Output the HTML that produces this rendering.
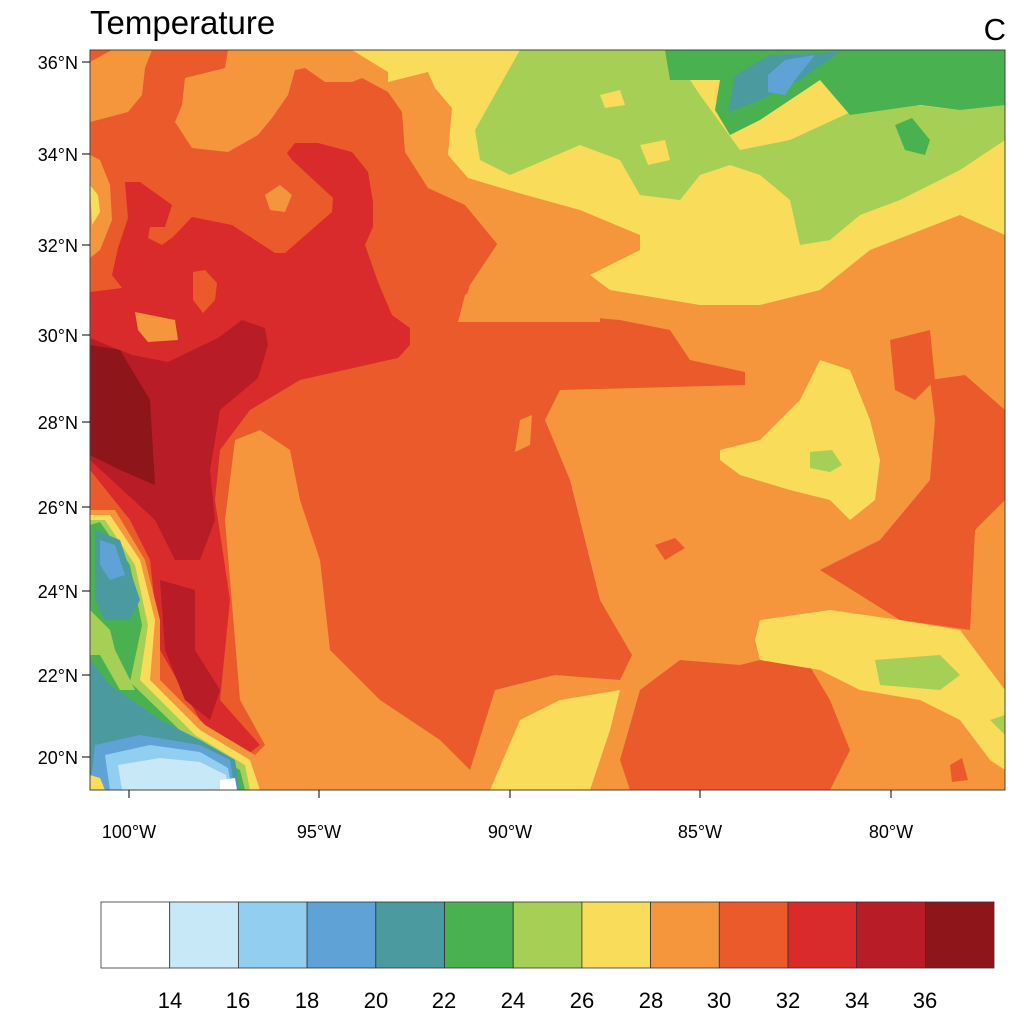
<!DOCTYPE html>
<html><head><meta charset="utf-8"><style>
html,body{margin:0;padding:0;background:#fff;}
svg{display:block;font-family:"Liberation Sans",sans-serif;}
</style></head><body>
<svg width="1014" height="1016" viewBox="0 0 1014 1016" xmlns="http://www.w3.org/2000/svg">
<defs><clipPath id="c"><rect x="90" y="50" width="915" height="740"/></clipPath></defs>
<text x="90" y="34" font-size="33">Temperature</text>
<text x="1006" y="40" font-size="31" text-anchor="end">C</text>
<g clip-path="url(#c)">
<rect x="90" y="50" width="915" height="740" fill="#f5963c"/>
<!-- red-orange 32 -->
<polygon fill="#eb5a2a" points="90,50 380,50 400,70 430,60 455,100 450,170 490,200 500,240 470,285 460,315 560,315 620,320 670,330 690,360 745,372 745,385 560,390 545,420 570,480 600,600 632,655 620,680 555,675 495,690 470,770 440,740 380,700 330,650 320,560 300,500 290,450 260,430 235,440 225,520 240,700 265,745 250,760 90,760"/>
<!-- orange patches top-left -->
<polygon fill="#f5963c" points="112,50 152,50 145,68 142,95 128,112 90,122 90,62"/>
<polygon fill="#f5963c" points="228,50 225,68 185,78 182,105 175,122 192,148 228,152 258,135 272,118 288,95 295,70 305,68 325,82 352,82 362,78 388,92 402,112 405,152 428,188 465,205 498,245 492,278 465,295 458,322 600,322 600,50"/>
<polygon fill="#f5963c" points="90,155 100,160 110,185 112,220 100,250 90,258"/>
<polygon fill="#f8dc5a" points="90,185 98,195 100,212 92,225"/>
<polygon fill="#f5963c" points="265,195 280,185 292,195 285,212 270,210"/>
<polygon fill="#f5963c" points="520,420 532,415 530,445 515,452"/>
<!-- yellow top -->
<polygon fill="#f8dc5a" points="352,50 388,72 388,82 428,72 435,88 452,108 448,155 468,178 515,192 580,210 640,235 640,250 590,275 610,290 700,305 760,305 820,290 870,250 960,215 1005,235 1005,50"/>
<polygon fill="#a6cf55" points="520,50 670,50 700,95 740,150 790,140 855,110 915,105 960,110 1005,100 1005,140 960,170 900,200 860,215 830,240 800,245 790,200 760,175 730,165 700,175 680,200 640,195 620,160 580,145 510,175 480,160 475,130"/>
<polygon fill="#f8dc5a" points="600,95 620,90 625,105 605,108"/>
<polygon fill="#f8dc5a" points="640,145 665,140 670,160 648,165"/>
<polygon fill="#4ab151" points="665,50 1005,50 1005,105 960,110 920,105 850,115 820,80 790,100 760,120 730,135 715,110 720,80 690,80 670,80"/>
<polygon fill="#4ab151" points="895,125 912,118 930,140 925,155 905,150"/>
<polygon fill="#4a9a9f" points="735,75 770,55 840,52 800,80 760,100 728,112"/>
<polygon fill="#5fa2d6" points="768,75 785,60 815,55 795,80 785,95 768,92"/>
<polygon fill="#eb5a2a" points="930,380 965,375 1005,410 1005,500 975,530 970,630 900,620 820,570 880,540 930,480 935,420"/>
<polygon fill="#eb5a2a" points="890,340 930,330 935,380 915,400 895,390"/>
<polygon fill="#eb5a2a" points="620,760 640,690 680,660 740,665 800,650 830,700 850,750 830,790 630,790"/>
<polygon fill="#eb5a2a" points="655,545 675,538 685,548 665,560"/>
<polygon fill="#eb5a2a" points="950,765 962,758 968,780 952,782"/>
<!-- yellow right blobs -->
<polygon fill="#f8dc5a" points="720,450 760,440 800,400 820,360 850,370 870,420 880,460 875,500 850,520 830,500 790,490 740,475 720,460"/>
<polygon fill="#a6cf55" points="810,452 832,450 842,465 830,472 810,468"/>
<polygon fill="#f8dc5a" points="755,640 760,620 830,610 900,620 960,630 1005,690 1005,770 990,760 960,720 920,700 860,690 820,670 760,660"/>
<polygon fill="#a6cf55" points="875,660 940,655 960,675 940,690 880,685"/>
<polygon fill="#a6cf55" points="990,720 1005,715 1005,735"/>
<polygon fill="#f8dc5a" points="490,790 520,720 560,700 620,690 610,730 590,790"/>
<!-- red 34 -->
<polygon fill="#d92b2b" points="90,292 122,288 112,275 118,248 128,218 125,182 140,182 172,205 165,227 150,227 148,238 162,245 173,237 192,217 232,225 275,253 285,253 332,212 333,198 292,160 287,153 295,143 318,143 352,152 368,172 373,202 373,227 365,245 378,282 392,315 410,328 410,345 398,358 380,362 300,380 250,410 220,450 215,500 230,600 220,700 260,745 240,760 200,720 160,650 150,560 130,520 90,470"/>
<polygon fill="#eb5a2a" points="193,272 205,270 217,283 215,300 203,313 193,300"/>
<polygon fill="#f5963c" points="135,312 175,320 178,340 148,342 138,330"/>
<!-- dark red -->
<polygon fill="#b81c26" points="90,338 132,355 168,362 218,338 242,320 265,328 268,345 258,378 220,410 210,470 215,520 200,560 175,560 155,520 90,460"/>
<polygon fill="#b81c26" points="160,580 195,590 195,650 220,690 210,720 185,700 165,650"/>
<polygon fill="#8e1519" points="90,345 120,350 150,400 155,485 120,470 90,455"/>
<!-- lower-left cool colours -->
<polygon fill="#f5963c" points="90,510 115,510 145,560 160,620 160,680 205,725 255,755 265,790 90,790"/>
<polygon fill="#f8dc5a" points="90,515 110,515 140,560 155,620 150,680 200,730 250,760 260,790 90,790"/>
<polygon fill="#a6cf55" points="90,520 105,520 135,565 148,625 140,680 195,735 245,765 250,790 90,790"/>
<polygon fill="#4ab151" points="90,525 100,522 130,565 142,625 130,682 190,740 240,770 245,790 90,790"/>
<polygon fill="#4a9a9f" points="95,530 120,540 140,600 130,620 105,620 95,600"/>
<polygon fill="#5fa2d6" points="100,540 115,545 125,575 110,580 100,565"/>
<polygon fill="#a6cf55" points="90,610 110,630 115,650 135,690 120,690 100,655 90,655"/>
<polygon fill="#4a9a9f" points="90,660 110,685 160,720 200,740 235,760 240,790 90,790"/>
<polygon fill="#5fa2d6" points="95,745 140,735 200,745 230,760 235,790 90,790"/>
<polygon fill="#92cef0" points="105,755 150,745 200,752 228,768 232,790 110,790"/>
<polygon fill="#c6e8f7" points="118,765 160,758 200,762 226,775 228,790 122,790"/>
<polygon fill="#ffffff" points="220,780 235,778 237,790 220,790"/>
<polygon fill="#f8dc5a" points="90,775 100,778 105,790 90,790"/>
</g>
<rect x="90" y="50" width="915" height="740" fill="none" stroke="#444" stroke-width="1"/>
<g stroke="#000" stroke-width="1">
<line x1="82" y1="62" x2="90" y2="62"/><line x1="82" y1="154" x2="90" y2="154"/><line x1="82" y1="245" x2="90" y2="245"/><line x1="82" y1="335" x2="90" y2="335"/><line x1="82" y1="422" x2="90" y2="422"/><line x1="82" y1="507" x2="90" y2="507"/><line x1="82" y1="591" x2="90" y2="591"/><line x1="82" y1="675" x2="90" y2="675"/><line x1="82" y1="757" x2="90" y2="757"/>
<line x1="129" y1="790" x2="129" y2="798"/><line x1="319" y1="790" x2="319" y2="798"/><line x1="510" y1="790" x2="510" y2="798"/><line x1="700" y1="790" x2="700" y2="798"/><line x1="891" y1="790" x2="891" y2="798"/>
</g>
<g font-size="18" text-anchor="end">
<text x="78" y="69">36°N</text><text x="78" y="161">34°N</text><text x="78" y="252">32°N</text><text x="78" y="342">30°N</text><text x="78" y="429">28°N</text><text x="78" y="514">26°N</text><text x="78" y="598">24°N</text><text x="78" y="682">22°N</text><text x="78" y="764">20°N</text>
</g>
<g font-size="18" text-anchor="middle">
<text x="129" y="838">100°W</text><text x="319" y="838">95°W</text><text x="510" y="838">90°W</text><text x="700" y="838">85°W</text><text x="891" y="838">80°W</text>
</g>
<g stroke="#333" stroke-width="0.8">
<rect x="101" y="902" width="68.7" height="66" fill="#ffffff"/>
<rect x="169.7" y="902" width="68.7" height="66" fill="#c6e8f7"/>
<rect x="238.4" y="902" width="68.7" height="66" fill="#92cef0"/>
<rect x="307.1" y="902" width="68.7" height="66" fill="#5fa2d6"/>
<rect x="375.8" y="902" width="68.7" height="66" fill="#4a9a9f"/>
<rect x="444.5" y="902" width="68.7" height="66" fill="#4ab151"/>
<rect x="513.2" y="902" width="68.7" height="66" fill="#a6cf55"/>
<rect x="581.9" y="902" width="68.7" height="66" fill="#f8dc5a"/>
<rect x="650.6" y="902" width="68.7" height="66" fill="#f5963c"/>
<rect x="719.3" y="902" width="68.7" height="66" fill="#eb5a2a"/>
<rect x="788" y="902" width="68.7" height="66" fill="#d92b2b"/>
<rect x="856.7" y="902" width="68.7" height="66" fill="#b81c26"/>
<rect x="925.4" y="902" width="68.6" height="66" fill="#8e1519"/>
</g>
<g font-size="22" text-anchor="middle">
<text x="170" y="1008">14</text><text x="238" y="1008">16</text><text x="307" y="1008">18</text><text x="376" y="1008">20</text><text x="444" y="1008">22</text><text x="513" y="1008">24</text><text x="582" y="1008">26</text><text x="651" y="1008">28</text><text x="719" y="1008">30</text><text x="788" y="1008">32</text><text x="857" y="1008">34</text><text x="925" y="1008">36</text>
</g>
</svg>
</body></html>
